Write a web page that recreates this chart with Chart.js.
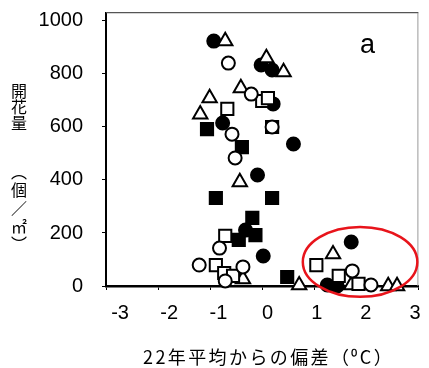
<!DOCTYPE html>
<html lang="ja">
<head>
<meta charset="UTF-8">
<title>開花量と気温偏差</title>
<script src="https://cdn.jsdelivr.net/npm/chart.js@4"></script>
<style>
  body { margin: 0; background: #fff; }
  #wrap { position: relative; width: 429px; height: 368px; overflow: hidden; }
  #wrap canvas { position: absolute; left: 0; top: 0; }
  .ytitle {
    position: absolute; left: 10px;
    writing-mode: vertical-rl;
    font-family: "Noto Sans CJK JP", sans-serif; font-size: 16px; line-height: 17px;
    color: #000; white-space: nowrap;
  }
  #yt1 { top: 83px; }
  #yt2 { top: 164px; letter-spacing: 2px; }
  #xt {
    position: absolute; left: 143px; top: 345px;
    font-family: "Noto Sans CJK JP", sans-serif; font-size: 18px; line-height: 22px;
    letter-spacing: 2.4px; color: #000; white-space: nowrap;
  }
</style>
</head>
<body>
<div id="wrap">
  <canvas id="c" width="429" height="368"></canvas>
  <div class="ytitle" id="yt1">開花量</div>
  <div class="ytitle" id="yt2">（個／㎡）</div>
  <div id="xt">22年平均からの偏差（⁰C）</div>
</div>
<script>
// 横軸: 22年平均からの偏差 (℃)、縦軸: 開花量 (個/㎡)
const xTicks = [-3, -2, -1, 0, 1, 2, 3];
const yTicks = [0, 200, 400, 600, 800, 1000];

// ●
const solidCircleDev = [-0.93, -0.02, 0.19, 0.21, -0.76, 0.60, -0.09, -0.32, 0.02, 1.71, 1.25, 1.44];
const solidCircleFlw = [924, 834, 815, 687, 615, 536, 419, 211, 113, 166, 4, 0];
// ○
const openCircleDev = [-0.65, -0.21, 0.19, -0.58, -0.52, -0.82, -1.21, -0.37, -0.71, 1.73, 2.09];
const openCircleFlw = [841, 724, 600, 573, 483, 143, 79, 72, 19, 57, 4];
// ■
const solidSquareDev = [-1.06, -0.39, 0.19, -0.89, 0.19, -0.19, -0.13, -0.45, 0.48];
const solidSquareFlw = [592, 524, 600, 332, 332, 257, 192, 174, 34];
// □
const openSquareDev = [0.00, 0.11, -0.67, -0.71, -0.89, -0.73, -0.56, 1.04, 1.47, 1.85];
const openSquareFlw = [698, 709, 668, 189, 79, 49, 38, 79, 38, 8];
// △
const triangleDev = [-0.71, 0.08, 0.41, -0.41, -1.01, -1.19, -0.43, -0.37, 0.71, 1.36, 1.71, 2.42, 2.59];
const triangleFlw = [924, 860, 807, 747, 709, 648, 392, 26, 3, 120, 3, 0, 0];

// 囲み (中心と半径はデータ座標)
const ringCenter = [1.88, 91];
const ringRadius = [1.10, 132];

const tickFont = { family: '"Liberation Sans", Arial, sans-serif', size: 20 };

function series(label, dev, flw, style, fill, radius) {
  return {
    label: label,
    data: dev.map((d, i) => ({ x: d, y: flw[i] })),
    pointStyle: style,
    pointRadius: radius,
    pointHoverRadius: radius,
    pointBackgroundColor: fill,
    pointBorderColor: '#000',
    pointBorderWidth: 2,
    showLine: false,
    clip: false
  };
}

// 枠線・囲み・パネル記号
const extras = {
  id: 'extras',
  beforeDatasetsDraw(chart) {
    const { ctx, chartArea: a } = chart;
    ctx.save();
    ctx.lineWidth = 1.3;
    ctx.strokeStyle = '#555';
    ctx.beginPath();
    ctx.moveTo(a.left, a.top - 0.3);
    ctx.lineTo(a.right, a.top - 0.3);
    ctx.stroke();
    ctx.lineWidth = 1;
    ctx.strokeStyle = '#999';
    ctx.beginPath();
    ctx.moveTo(a.right - 0.5, a.top);
    ctx.lineTo(a.right - 0.5, a.bottom);
    ctx.stroke();
    ctx.restore();
  },
  afterDatasetsDraw(chart) {
    const { ctx, chartArea: a, scales } = chart;
    const cx = scales.x.getPixelForValue(ringCenter[0]);
    const cy = scales.y.getPixelForValue(ringCenter[1]);
    const rx = scales.x.getPixelForValue(ringCenter[0] + ringRadius[0]) - cx;
    const ry = cy - scales.y.getPixelForValue(ringCenter[1] + ringRadius[1]);
    ctx.save();
    ctx.strokeStyle = '#e8141b';
    ctx.lineWidth = 2.5;
    ctx.beginPath();
    ctx.ellipse(cx, cy, rx, ry, 0, 0, Math.PI * 2);
    ctx.stroke();

    ctx.fillStyle = '#000';
    ctx.font = '27px "Liberation Sans", Arial, sans-serif';
    ctx.textAlign = 'center';
    ctx.textBaseline = 'alphabetic';
    ctx.fillText('a', a.right - 51, a.top + 40);
    ctx.restore();
  }
};

new Chart(document.getElementById('c'), {
  type: 'scatter',
  data: {
    datasets: [
      series('○', openCircleDev, openCircleFlw, 'circle', '#fff', 6.5),
      series('□', openSquareDev, openSquareFlw, 'rect', '#fff', 8.6),
      series('△', triangleDev, triangleFlw, 'triangle', '#fff', 8.3),
      series('●', solidCircleDev, solidCircleFlw, 'circle', '#000', 6.5),
      series('■', solidSquareDev, solidSquareFlw, 'rect', '#000', 8.6)
    ]
  },
  options: {
    responsive: false,
    animation: false,
    devicePixelRatio: 1,
    layout: { padding: { top: 13, right: 1, left: 0, bottom: 0 } },
    plugins: { legend: { display: false }, tooltip: { enabled: false } },
    scales: {
      // 目盛り線のみの軸
      x: {
        type: 'linear', position: 'bottom', min: -3, max: 3, weight: 0,
        afterBuildTicks: s => { s.ticks = xTicks.map(v => ({ value: v })); },
        afterFit: s => { s.height = 4; s.paddingLeft = 0; s.paddingRight = 0; },
        ticks: { display: false },
        grid: { drawOnChartArea: false, drawTicks: true, tickLength: 4, color: '#000', lineWidth: 1 },
        border: { display: true, color: '#000', width: 2.5 }
      },
      // 目盛りラベルの軸
      xl: {
        type: 'linear', position: 'bottom', min: -3.286, max: 3.069, weight: 1,
        afterBuildTicks: s => { s.ticks = xTicks.map(v => ({ value: v })); },
        afterFit: s => { s.height = 78; s.paddingLeft = 0; s.paddingRight = 0; },
        ticks: { padding: 11, font: tickFont, color: '#000', autoSkip: false, maxRotation: 0,
                 callback: v => String(v) },
        grid: { display: false, drawTicks: false },
        border: { display: false }
      },
      y: {
        type: 'linear', min: 0, max: 1030,
        afterBuildTicks: s => { s.ticks = yTicks.map(v => ({ value: v })); },
        afterFit: s => { s.width = 106; s.paddingTop = 0; s.paddingBottom = 0; },
        ticks: { padding: 19, font: tickFont, color: '#000', callback: v => String(v) },
        grid: { drawOnChartArea: false, drawTicks: true, tickLength: 4, color: '#000', lineWidth: 1 },
        border: { display: true, color: '#000', width: 2 }
      }
    }
  },
  plugins: [extras]
});
</script>
</body>
</html>
